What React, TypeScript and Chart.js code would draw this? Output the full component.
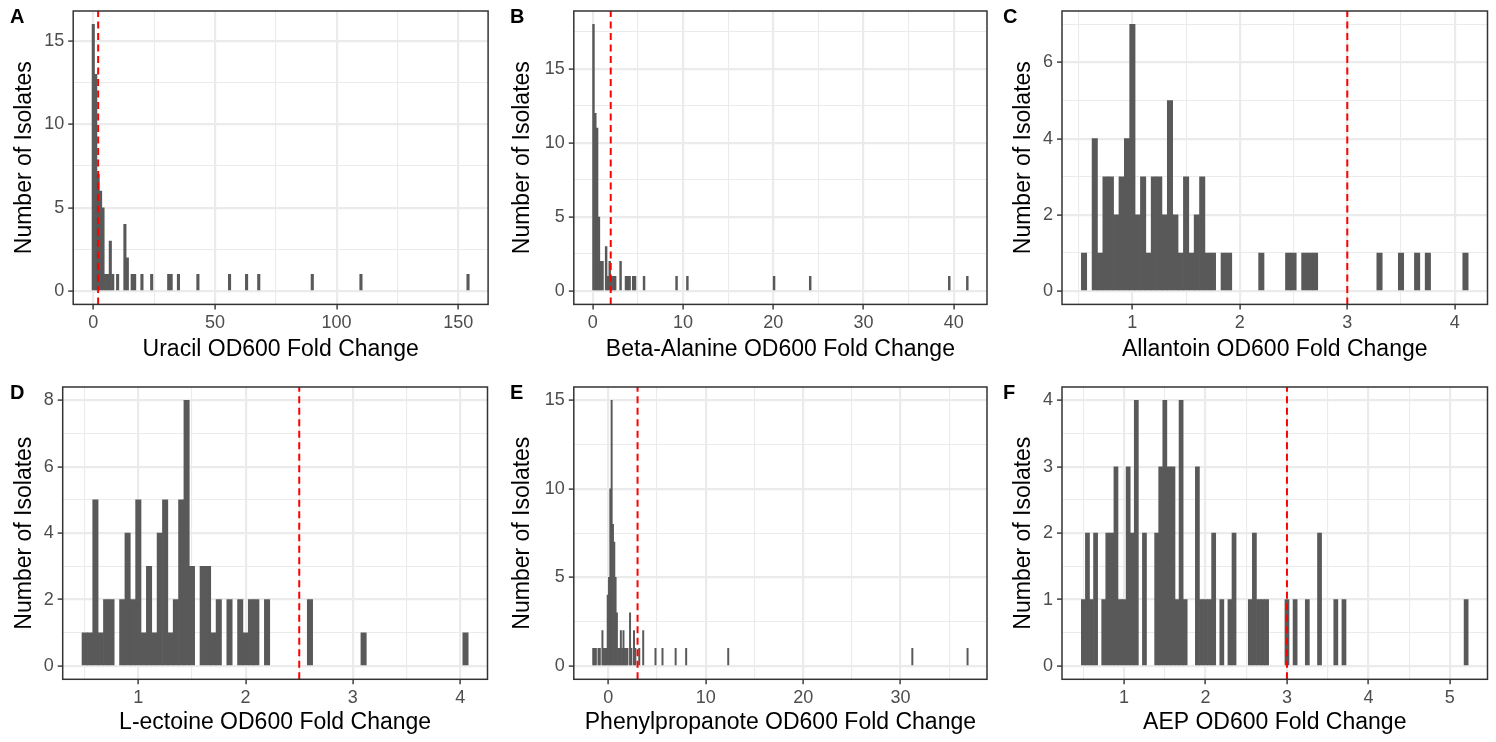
import React, { useEffect, useRef } from "react";
import { Chart, registerables } from "chart.js";

Chart.register(...registerables);

const FONT = "'Liberation Sans', Arial, Helvetica, sans-serif";
const BAR_COLOR = "#595959";

// ---------- Panel A : Uracil ----------
const uracilBinCenters = [0, 1, 2, 3, 4, 5, 6, 7, 8, 10, 13, 14, 16, 17, 20, 24, 31, 32, 35, 43, 56, 63, 68, 90, 110, 154];
const uracilCounts = [16, 13, 7, 6, 5, 1, 1, 3, 1, 1, 4, 2, 1, 1, 1, 1, 1, 1, 1, 1, 1, 1, 1, 1, 1, 1];
const uracilXTicks = [0, 50, 100, 150];
const uracilXMinor = [25, 75, 125];
const uracilYTicks = [0, 5, 10, 15];
const uracilYMinor = [2.5, 7.5, 12.5];
const uracilCutoff = 2;

// ---------- Panel B : Beta-Alanine ----------
const betaBinCenters = [0.09, 0.29, 0.49, 0.69, 0.89, 1.09, 1.49, 1.69, 1.89, 2.09, 2.29, 2.49, 3.09, 3.69, 3.89, 4.09, 4.49, 4.69, 5.69, 9.29, 10.49, 20.09, 24.09, 39.49, 41.49];
const betaCounts = [18, 12, 11, 5, 2, 2, 3, 1, 2, 1, 1, 1, 2, 1, 1, 1, 1, 1, 1, 1, 1, 1, 1, 1, 1];
const betaXTicks = [0, 10, 20, 30, 40];
const betaXMinor = [5, 15, 25, 35];
const betaYTicks = [0, 5, 10, 15];
const betaYMinor = [2.5, 7.5, 12.5, 17.5];
const betaCutoff = 2;

// ---------- Panel C : Allantoin ----------
const allantoinBinCenters = [0.55, 0.65, 0.7, 0.75, 0.8, 0.85, 0.9, 0.95, 1.0, 1.05, 1.1, 1.15, 1.2, 1.25, 1.3, 1.35, 1.4, 1.45, 1.5, 1.55, 1.6, 1.65, 1.7, 1.75, 1.85, 1.9, 2.2, 2.45, 2.5, 2.6, 2.65, 2.7, 3.3, 3.5, 3.65, 3.75, 4.1];
const allantoinCounts = [1, 4, 1, 3, 3, 2, 3, 4, 7, 2, 3, 1, 3, 3, 2, 5, 2, 1, 3, 1, 2, 3, 1, 1, 1, 1, 1, 1, 1, 1, 1, 1, 1, 1, 1, 1, 1];
const allantoinXTicks = [1, 2, 3, 4];
const allantoinXMinor = [0.5, 1.5, 2.5, 3.5];
const allantoinYTicks = [0, 2, 4, 6];
const allantoinYMinor = [1, 3, 5, 7];
const allantoinCutoff = 3;

// ---------- Panel D : L-ectoine ----------
const ectoineBinCenters = [0.5, 0.55, 0.6, 0.65, 0.7, 0.75, 0.85, 0.9, 0.95, 1.0, 1.05, 1.1, 1.15, 1.2, 1.25, 1.3, 1.35, 1.4, 1.45, 1.5, 1.6, 1.65, 1.7, 1.75, 1.85, 1.95, 2.0, 2.05, 2.1, 2.2, 2.6, 3.1, 4.05];
const ectoineCounts = [1, 1, 5, 1, 2, 2, 2, 4, 2, 5, 1, 3, 1, 4, 5, 1, 2, 5, 8, 3, 3, 3, 1, 2, 2, 2, 1, 2, 2, 2, 2, 1, 1];
const ectoineXTicks = [1, 2, 3, 4];
const ectoineXMinor = [0.5, 1.5, 2.5, 3.5];
const ectoineYTicks = [0, 2, 4, 6, 8];
const ectoineYMinor = [1, 3, 5, 7];
const ectoineCutoff = 2.5;

// ---------- Panel E : Phenylpropanote ----------
const phenylBinCenters = [-1.55, -1.415, -1.28, -1.01, -0.875, -0.605, -0.47, -0.335, -0.2, -0.065, 0.07, 0.205, 0.34, 0.475, 0.61, 0.745, 0.88, 1.015, 1.15, 1.285, 1.42, 1.555, 1.69, 1.825, 1.96, 2.23, 2.365, 2.635, 2.77, 3.175, 3.58, 4.84, 5.56, 6.91, 7.99, 12.31, 31.21, 36.88];
const phenylCounts = [1, 1, 1, 1, 1, 2, 1, 1, 1, 4, 5, 10, 15, 8, 7, 5, 3, 1, 1, 2, 1, 2, 1, 1, 1, 3, 1, 2, 1, 1, 2, 1, 1, 1, 1, 1, 1, 1];
const phenylXTicks = [0, 10, 20, 30];
const phenylXMinor = [5, 15, 25, 35];
const phenylYTicks = [0, 5, 10, 15];
const phenylYMinor = [2.5, 7.5, 12.5];
const phenylCutoff = 3;

// ---------- Panel F : AEP ----------
const aepBinCenters = [0.5, 0.55, 0.6, 0.65, 0.75, 0.8, 0.85, 0.9, 0.95, 1.0, 1.05, 1.1, 1.15, 1.25, 1.4, 1.45, 1.5, 1.55, 1.6, 1.65, 1.7, 1.75, 1.9, 1.95, 2.0, 2.05, 2.1, 2.2, 2.3, 2.35, 2.55, 2.6, 2.65, 2.7, 2.75, 3.0, 3.1, 3.25, 3.4, 3.6, 3.7, 5.2];
const aepCounts = [1, 2, 1, 2, 1, 2, 2, 3, 1, 1, 3, 2, 4, 2, 2, 3, 4, 3, 3, 1, 4, 1, 3, 1, 1, 1, 2, 1, 1, 2, 1, 2, 1, 1, 1, 1, 1, 1, 2, 1, 1, 1];
const aepXTicks = [1, 2, 3, 4, 5];
const aepXMinor = [0.5, 1.5, 2.5, 3.5, 4.5];
const aepYTicks = [0, 1, 2, 3, 4];
const aepYMinor = [0.5, 1.5, 2.5, 3.5];
const aepCutoff = 3;

type PanelCfg = {
  tag: string;
  xTitle: string;
  centers: number[];
  counts: number[];
  binWidth: number;
  xTicks: number[];
  xMinor: number[];
  yTicks: number[];
  yMinor: number[];
  cutoff: number;
  box: { x: number; y: number; w: number; h: number };
  yAxisW: number;
  padRight: number;
  plotTop: number;
  xAxisH: number;
  yTitleCenter: number;
  xTitleOffset: number;
  tagX: number;
  tagY: number;
};

const TOP = { y: 0, h: 371, plotTop: 11, xAxisH: 66.6, xTitleOffset: 21, tagY: 23 };
const BOT = { y: 371, h: 371, plotTop: 16, xAxisH: 62.7, xTitleOffset: 19, tagY: 28 };
const COL1 = { x: 0, w: 495 };
const COL2 = { x: 495, w: 498 };
const COL3 = { x: 993, w: 503 };

const panels: PanelCfg[] = [
  {
    tag: "A", xTitle: "Uracil OD600 Fold Change", centers: uracilBinCenters, counts: uracilCounts, binWidth: 1,
    xTicks: uracilXTicks, xMinor: uracilXMinor, yTicks: uracilYTicks, yMinor: uracilYMinor, cutoff: uracilCutoff,
    box: { x: COL1.x, y: TOP.y, w: COL1.w, h: TOP.h }, yAxisW: 73.2, padRight: 6.9, plotTop: TOP.plotTop, xAxisH: TOP.xAxisH,
    yTitleCenter: 25, xTitleOffset: TOP.xTitleOffset, tagX: 10, tagY: TOP.tagY,
  },
  {
    tag: "B", xTitle: "Beta-Alanine OD600 Fold Change", centers: betaBinCenters, counts: betaCounts, binWidth: 0.2,
    xTicks: betaXTicks, xMinor: betaXMinor, yTicks: betaYTicks, yMinor: betaYMinor, cutoff: betaCutoff,
    box: { x: COL2.x, y: TOP.y, w: COL2.w, h: TOP.h }, yAxisW: 78.8, padRight: 6, plotTop: TOP.plotTop, xAxisH: TOP.xAxisH,
    yTitleCenter: 28, xTitleOffset: TOP.xTitleOffset, tagX: 15, tagY: TOP.tagY,
  },
  {
    tag: "C", xTitle: "Allantoin OD600 Fold Change", centers: allantoinBinCenters, counts: allantoinCounts, binWidth: 0.05,
    xTicks: allantoinXTicks, xMinor: allantoinXMinor, yTicks: allantoinYTicks, yMinor: allantoinYMinor, cutoff: allantoinCutoff,
    box: { x: COL3.x, y: TOP.y, w: COL3.w, h: TOP.h }, yAxisW: 69, padRight: 8.5, plotTop: TOP.plotTop, xAxisH: TOP.xAxisH,
    yTitleCenter: 31, xTitleOffset: TOP.xTitleOffset, tagX: 10, tagY: TOP.tagY,
  },
  {
    tag: "D", xTitle: "L-ectoine OD600 Fold Change", centers: ectoineBinCenters, counts: ectoineCounts, binWidth: 0.05,
    xTicks: ectoineXTicks, xMinor: ectoineXMinor, yTicks: ectoineYTicks, yMinor: ectoineYMinor, cutoff: ectoineCutoff,
    box: { x: COL1.x, y: BOT.y, w: COL1.w, h: BOT.h }, yAxisW: 62.7, padRight: 7.5, plotTop: BOT.plotTop, xAxisH: BOT.xAxisH,
    yTitleCenter: 25, xTitleOffset: BOT.xTitleOffset, tagX: 10, tagY: BOT.tagY,
  },
  {
    tag: "E", xTitle: "Phenylpropanote OD600 Fold Change", centers: phenylBinCenters, counts: phenylCounts, binWidth: 0.135,
    xTicks: phenylXTicks, xMinor: phenylXMinor, yTicks: phenylYTicks, yMinor: phenylYMinor, cutoff: phenylCutoff,
    box: { x: COL2.x, y: BOT.y, w: COL2.w, h: BOT.h }, yAxisW: 78.8, padRight: 6, plotTop: BOT.plotTop, xAxisH: BOT.xAxisH,
    yTitleCenter: 28, xTitleOffset: BOT.xTitleOffset, tagX: 15, tagY: BOT.tagY,
  },
  {
    tag: "F", xTitle: "AEP OD600 Fold Change", centers: aepBinCenters, counts: aepCounts, binWidth: 0.05,
    xTicks: aepXTicks, xMinor: aepXMinor, yTicks: aepYTicks, yMinor: aepYMinor, cutoff: aepCutoff,
    box: { x: COL3.x, y: BOT.y, w: COL3.w, h: BOT.h }, yAxisW: 69, padRight: 8.5, plotTop: BOT.plotTop, xAxisH: BOT.xAxisH,
    yTitleCenter: 31, xTitleOffset: BOT.xTitleOffset, tagX: 10, tagY: BOT.tagY,
  },
];

const TICK_FONT = { family: FONT, size: 18, lineHeight: 1.2 };
const TITLE_SIZE = 23;
const TITLE_FONT = { family: FONT, size: TITLE_SIZE, lineHeight: 1.2 };
const TITLE_LH = TITLE_SIZE * 1.2;

function near(list: number[], v: number) {
  return list.some((t) => Math.abs(t - v) < 1e-9);
}

function HistPanel({ cfg }: { cfg: PanelCfg }) {
  const ref = useRef<HTMLCanvasElement | null>(null);
  useEffect(() => {
    if (!ref.current) return;
    const lo = Math.min(...cfg.centers) - cfg.binWidth / 2;
    const hi = Math.max(...cfg.centers) + cfg.binWidth / 2;
    const xPad = (hi - lo) * 0.05;
    const xMin = lo - xPad;
    const xMax = hi + xPad;
    const yTop = Math.max(...cfg.counts);
    const yMin = -0.05 * yTop;
    const yMax = 1.05 * yTop;
    const xAll = [...cfg.xTicks, ...cfg.xMinor].filter((v) => v > xMin && v < xMax).sort((a, b) => a - b);
    const yAll = [...cfg.yTicks, ...cfg.yMinor].filter((v) => v > yMin && v < yMax).sort((a, b) => a - b);

    const overlay = {
      id: "overlay" + cfg.tag,
      afterDatasetsDraw(chart: any) {
        const { ctx, chartArea: a, scales } = chart;
        const x = scales.x.getPixelForValue(cfg.cutoff);
        ctx.save();
        ctx.beginPath();
        ctx.rect(a.left, a.top, a.right - a.left, a.bottom - a.top);
        ctx.clip();
        ctx.strokeStyle = "#FF0000";
        ctx.lineWidth = 2;
        ctx.setLineDash([7, 4.5]);
        ctx.beginPath();
        ctx.moveTo(x, a.bottom);
        ctx.lineTo(x, a.top);
        ctx.stroke();
        ctx.restore();
        ctx.save();
        ctx.strokeStyle = "#333333";
        ctx.lineWidth = 1.5;
        ctx.strokeRect(a.left, a.top, a.right - a.left, a.bottom - a.top);
        ctx.restore();
      },
      afterDraw(chart: any) {
        const { ctx } = chart;
        ctx.save();
        ctx.fillStyle = "#000000";
        ctx.font = `bold 20px ${FONT}`;
        ctx.textBaseline = "alphabetic";
        ctx.textAlign = "left";
        ctx.fillText(cfg.tag, cfg.tagX, cfg.tagY);
        ctx.restore();
      },
    };

    const gridFor = (majors: number[]) => ({
      offset: false,
      color: "#EBEBEB",
      lineWidth: (c: any) => (c.tick && near(majors, c.tick.value) ? 2.2 : 1.1),
      drawTicks: true,
      tickLength: 5,
      tickWidth: 1.4,
      tickColor: (c: any) => (c.tick && near(majors, c.tick.value) ? "#333333" : "rgba(0,0,0,0)"),
    });

    const chart = new Chart(ref.current, {
      type: "bar",
      data: {
        datasets: [
          {
            data: cfg.centers.map((c, i) => ({ x: c, y: cfg.counts[i] })),
            backgroundColor: BAR_COLOR,
            borderWidth: 0,
            barPercentage: 1,
            categoryPercentage: 1,
          } as any,
        ],
      },
      options: {
        animation: false,
        responsive: false,
        events: [],
        layout: { padding: { top: cfg.plotTop, right: cfg.padRight, left: 0, bottom: 0 } },
        plugins: { legend: { display: false }, tooltip: { enabled: false }, title: { display: false } },
        scales: {
          x: {
            type: "linear",
            min: xMin,
            max: xMax,
            offset: false,
            afterBuildTicks: (s: any) => {
              s.ticks = xAll.map((v) => ({ value: v }));
            },
            afterFit: (s: any) => {
              s.height = cfg.xAxisH;
              s.paddingLeft = 0;
              s.paddingRight = 0;
              s.paddingTop = 0;
              s.paddingBottom = 0;
            },
            grid: gridFor(cfg.xTicks),
            border: { display: false },
            ticks: {
              autoSkip: false,
              maxRotation: 0,
              minRotation: 0,
              padding: 3,
              color: "#4D4D4D",
              font: TICK_FONT,
              callback: (v: any) => (near(cfg.xTicks, Number(v)) ? String(v) : ""),
            },
            title: {
              display: true,
              text: cfg.xTitle,
              color: "#000000",
              font: TITLE_FONT,
              padding: { top: 0, bottom: cfg.xTitleOffset - TITLE_LH / 2 },
            },
          },
          y: {
            type: "linear",
            min: yMin,
            max: yMax,
            afterBuildTicks: (s: any) => {
              s.ticks = yAll.map((v) => ({ value: v }));
            },
            afterFit: (s: any) => {
              s.width = cfg.yAxisW;
              s.paddingLeft = 0;
              s.paddingRight = 0;
              s.paddingTop = 0;
              s.paddingBottom = 0;
            },
            grid: gridFor(cfg.yTicks),
            border: { display: false },
            ticks: {
              autoSkip: false,
              padding: 4,
              color: "#4D4D4D",
              font: TICK_FONT,
              callback: (v: any) => (near(cfg.yTicks, Number(v)) ? String(v) : ""),
            },
            title: {
              display: true,
              text: "Number of Isolates",
              color: "#000000",
              font: TITLE_FONT,
              padding: { top: cfg.yTitleCenter - TITLE_LH / 2, bottom: 0 },
            },
          },
        },
      } as any,
      plugins: [overlay],
    });
    return () => chart.destroy();
  }, [cfg]);

  return (
    <div style={{ position: "absolute", left: cfg.box.x, top: cfg.box.y, width: cfg.box.w, height: cfg.box.h }}>
      <canvas ref={ref} width={cfg.box.w} height={cfg.box.h} style={{ width: cfg.box.w, height: cfg.box.h, display: "block" }} />
    </div>
  );
}

export default function App() {
  return (
    <div style={{ position: "fixed", left: 0, top: 0, width: 1496, height: 742, background: "#FFFFFF", overflow: "hidden" }}>
      {panels.map((p) => (
        <HistPanel key={p.tag} cfg={p} />
      ))}
    </div>
  );
}
